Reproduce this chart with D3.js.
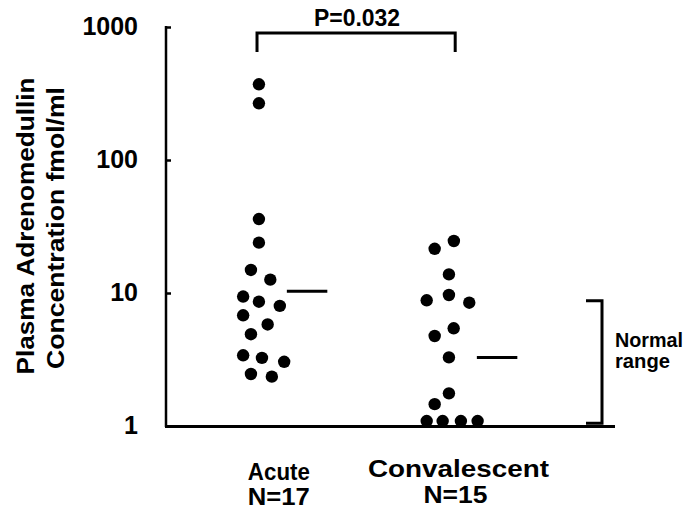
<!DOCTYPE html>
<html>
<head>
<meta charset="utf-8">
<script src="https://cdn.jsdelivr.net/npm/d3@7"></script>
<style>
  body { margin: 0; background: #fff; }
  text { font-family: "Liberation Sans", Arial, sans-serif; font-weight: bold; fill: #000; }
</style>
</head>
<body>
<div class="chart"></div>
<script>
// data (x = group position incl. jitter, y = fmol/ml)
var groups = ["Acute", "Convalescent"];
var groupN = ["N=17", "N=15"];
var acuteX = [1.0, 1.0, 1.0, 1.0, 0.958, 1.06, 0.917, 1.0, 1.11, 0.917, 1.046, 0.958, 0.917, 1.016, 1.133, 0.958, 1.068];
var acuteY = [371, 267, 36, 23.9, 14.9, 12.6, 9.4, 8.6, 8.0, 6.8, 5.8, 4.9, 3.4, 3.25, 3.04, 2.46, 2.35];
var convX = [2.026, 1.925, 2.0, 2.0, 1.883, 2.107, 2.025, 1.925, 2.0, 2.0, 1.925, 1.883, 1.967, 2.063, 2.151];
var convY = [24.6, 21.5, 13.8, 9.66, 8.81, 8.45, 5.43, 4.75, 3.28, 1.76, 1.46, 1.09, 1.09, 1.09, 1.09];
var medians = [10.3, 3.28];
var yTicks = [1, 10, 100, 1000];
var normalRange = [1.05, 8.75];
var pText = "P=0.032";

var svgWidth = 699;
var svgHeight = 513;

var svg = d3.select(".chart")
  .append("svg")
  .attr("width", svgWidth)
  .attr("height", svgHeight);

var xScale = d3.scaleLinear().domain([0.511, 2.874]).range([166, 615]);
var yScale = d3.scaleLog().domain([1, 1000]).range([426, 27]);

// axes
var leftAxis = d3.axisRight(yScale)
  .tickValues(yTicks)
  .tickSize(5)
  .tickFormat("");

var gy = svg.append("g")
  .attr("transform", "translate(" + xScale(0.511) + ",0)")
  .call(leftAxis);
gy.select(".domain").remove();
gy.selectAll(".tick line").attr("stroke", "#000").attr("stroke-width", 2.5);

svg.append("line")
  .attr("x1", xScale(0.511)).attr("x2", xScale(0.511))
  .attr("y1", yScale(1000) - 1).attr("y2", yScale(1) + 1)
  .attr("stroke", "#000").attr("stroke-width", 2.5);

svg.append("line")
  .attr("x1", xScale(0.511) - 1).attr("x2", xScale(2.874))
  .attr("y1", yScale(1) + 0.5).attr("y2", yScale(1) + 0.5)
  .attr("stroke", "#000").attr("stroke-width", 3);

svg.selectAll(".ylab")
  .data(yTicks)
  .enter()
  .append("text")
  .attr("class", "ylab")
  .attr("x", xScale(0.511) - 28)
  .attr("y", function(d) { return yScale(d) + 8; })
  .attr("text-anchor", "end")
  .style("font-size", "25px")
  .text(function(d) { return d; });

// y axis title
var yTitle = svg.append("text")
  .attr("transform", "translate(34,226) rotate(-90)")
  .attr("text-anchor", "middle")
  .style("font-size", "24px");
yTitle.append("tspan").attr("x", 0).attr("y", 0)
  .attr("textLength", 297).attr("lengthAdjust", "spacingAndGlyphs")
  .text("Plasma Adrenomedullin");
yTitle.append("tspan").attr("x", -2).attr("y", 30)
  .attr("textLength", 282).attr("lengthAdjust", "spacingAndGlyphs")
  .text("Concentration fmol/ml");

// points
var pts = acuteY.map(function(v, i) { return { x: acuteX[i], y: v }; })
  .concat(convY.map(function(v, i) { return { x: convX[i], y: v }; }));

svg.selectAll("circle")
  .data(pts)
  .enter()
  .append("circle")
  .attr("cx", function(d) { return xScale(d.x); })
  .attr("cy", function(d) { return yScale(d.y); })
  .attr("r", 6.2)
  .attr("fill", "#000");

// median lines
svg.selectAll(".median")
  .data(medians)
  .enter()
  .append("line")
  .attr("class", "median")
  .attr("x1", function(d, i) { return xScale(i + 1.147); })
  .attr("x2", function(d, i) { return xScale(i + 1.36); })
  .attr("y1", function(d) { return yScale(d); })
  .attr("y2", function(d) { return yScale(d); })
  .attr("stroke", "#000")
  .attr("stroke-width", 3);

// significance bracket
var bx1 = xScale(0.99), bx2 = xScale(2.033);
svg.append("path")
  .attr("d", "M" + bx1 + "," + 52 + "V" + 33 + "H" + bx2 + "V" + 52)
  .attr("fill", "none")
  .attr("stroke", "#000")
  .attr("stroke-width", 3);

svg.append("text")
  .attr("x", (bx1 + bx2) / 2 + 1)
  .attr("y", 26)
  .attr("text-anchor", "middle")
  .attr("textLength", 86).attr("lengthAdjust", "spacingAndGlyphs")
  .style("font-size", "23px")
  .text(pText);

// normal range bracket
var nx = 602;
svg.append("path")
  .attr("d", "M" + (nx - 16) + "," + yScale(normalRange[1]) + "H" + nx +
    "V" + yScale(normalRange[0]) + "H" + (nx - 16))
  .attr("fill", "none")
  .attr("stroke", "#000")
  .attr("stroke-width", 3);

svg.append("text").attr("x", 615).attr("y", 347).style("font-size", "20px")
  .attr("textLength", 68).attr("lengthAdjust", "spacingAndGlyphs").text("Normal");
svg.append("text").attr("x", 615).attr("y", 368).style("font-size", "20px")
  .attr("textLength", 55).attr("lengthAdjust", "spacingAndGlyphs").text("range");

// group labels
var labelX = [1.105, 2.05];
var labelW = [62, 181];
var nW = [62, 64];
svg.selectAll(".glab")
  .data(groups)
  .enter()
  .append("text")
  .attr("class", "glab")
  .attr("x", function(d, i) { return xScale(labelX[i]); })
  .attr("y", function(d, i) { return i === 0 ? 480 : 477; })
  .attr("text-anchor", "middle")
  .attr("textLength", function(d, i) { return labelW[i]; })
  .attr("lengthAdjust", "spacingAndGlyphs")
  .style("font-size", "24px")
  .text(function(d) { return d; });

svg.selectAll(".nlab")
  .data(groupN)
  .enter()
  .append("text")
  .attr("class", "nlab")
  .attr("x", function(d, i) { return xScale(labelX[i]) - (i === 0 ? 0 : 3); })
  .attr("y", function(d, i) { return i === 0 ? 505 : 503; })
  .attr("text-anchor", "middle")
  .attr("textLength", function(d, i) { return nW[i]; })
  .attr("lengthAdjust", "spacingAndGlyphs")
  .style("font-size", "24px")
  .text(function(d) { return d; });
</script>
</body>
</html>
